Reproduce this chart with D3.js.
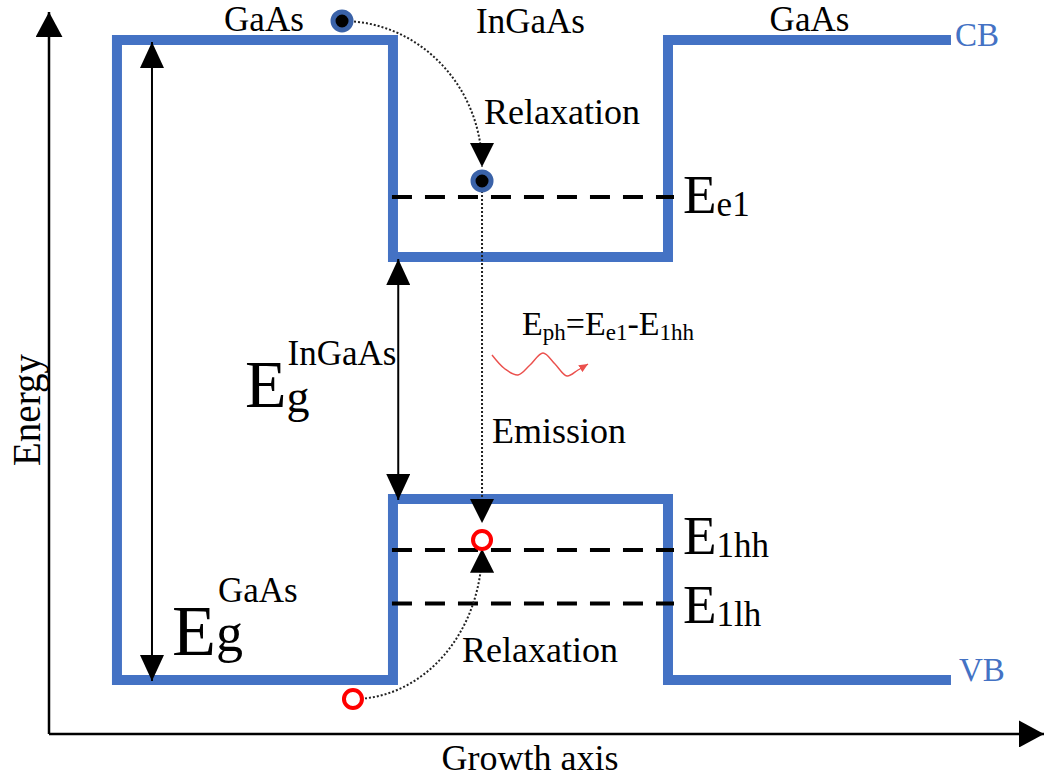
<!DOCTYPE html>
<html>
<head>
<meta charset="utf-8">
<script src="https://cdn.jsdelivr.net/npm/d3@7"></script>
<style>
  html, body { margin: 0; padding: 0; background: #fff; }
  svg { display: block; font-family: "Liberation Serif", "Times New Roman", serif; }
</style>
</head>
<body>
<svg id="chart" width="1044" height="782"></svg>
<script>
// Layers of the heterostructure along the growth axis (arbitrary position units)
const layers = ["GaAs", "InGaAs", "GaAs"];
const layerEdges = [6.83, 34.57, 62.21, 90.65];
// Band edges per layer (eV, referenced to the GaAs valence band)
const cbEdge = [1.42, 0.9385, 1.42];
const vbEdge = [0, 0.4016, 0];
// Confined levels inside the InGaAs well
const levelNames = ["e1", "1hh", "1lh"];
const levelEnergies = [1.0717, 0.2884, 0.1697];
// Axis extents
const growthRange = [0, 100];
const energyRange = [-0.1198, 1.482];
// Carriers: electrons and holes (position, energy)
const electrons = [[29.45, 1.4622], [43.52, 1.1072]];
const holes = [[43.52, 0.3106], [30.55, -0.0422]];
// Relaxation paths (from carrier to arrow tip)
const relaxPaths = [
  { from: [29.45, 1.4622], to: [43.52, 1.1382] },
  { from: [30.55, -0.0422], to: [43.52, 0.2914] }
];
// Emission path (vertical)
const emission = { x: 43.52, from: 1.0850, to: 0.3483 };
// Band gap arrows
const gapArrows = [
  { x: 10.35, top: 1.42, bottom: 0 },
  { x: 35.1, top: 0.9385, bottom: 0.4016 }
];

const svg = d3.select("#chart");
const x = d3.scaleLinear().domain(growthRange).range([49, 1044]);
const y = d3.scaleLinear().domain([0, 1.42]).range([680, 40]);

const blue = "#4472C4";

// Arrowhead markers
const defs = svg.append("defs");
function marker(id, w, l, color) {
  defs.append("marker")
    .attr("id", id)
    .attr("markerUnits", "userSpaceOnUse")
    .attr("viewBox", `0 0 ${l} ${w}`)
    .attr("refX", l).attr("refY", w / 2)
    .attr("markerWidth", l).attr("markerHeight", w)
    .attr("orient", "auto-start-reverse")
    .append("path")
    .attr("d", `M0,0 L${l},${w / 2} L0,${w} Z`)
    .attr("fill", color);
}
marker("axisHead", 27, 25, "#000");
marker("gapHead", 24, 26, "#000");
marker("relaxHead", 24, 24, "#000");
marker("waveHead", 8, 9, "#e8322e");

// Axes
const x0 = x(growthRange[0]), y0 = y(energyRange[0]);
svg.append("line")
  .attr("x1", x0).attr("y1", y0)
  .attr("x2", x0).attr("y2", y(energyRange[1]))
  .attr("stroke", "#000").attr("stroke-width", 2.5)
  .attr("marker-end", "url(#axisHead)");
svg.append("line")
  .attr("x1", x0).attr("y1", y0)
  .attr("x2", x(growthRange[1])).attr("y2", y0)
  .attr("stroke", "#000").attr("stroke-width", 2.5)
  .attr("marker-end", "url(#axisHead)");

svg.append("text")
  .attr("transform", `translate(40,${410}) rotate(-90)`)
  .attr("text-anchor", "middle")
  .attr("font-size", 39)
  .text("Energy");
svg.append("text")
  .attr("x", 530).attr("y", 770)
  .attr("text-anchor", "middle")
  .attr("font-size", 36)
  .text("Growth axis");

// Band profile: CB traced right-to-left, then the barrier wall, then VB left-to-right
const cbPts = [], vbPts = [];
layers.forEach((_, i) => {
  cbPts.push([layerEdges[i], cbEdge[i]], [layerEdges[i + 1], cbEdge[i]]);
  vbPts.push([layerEdges[i], vbEdge[i]], [layerEdges[i + 1], vbEdge[i]]);
});
const bandPts = cbPts.slice().reverse().concat(vbPts);
const line = d3.line().x(d => x(d[0])).y(d => y(d[1]));
svg.append("path")
  .attr("d", line(bandPts))
  .attr("fill", "none")
  .attr("stroke", blue)
  .attr("stroke-width", 10)
  .attr("stroke-linejoin", "miter");

// Band labels
svg.append("text")
  .attr("x", x(layerEdges[3]) + 4).attr("y", y(cbEdge[2]) + 6)
  .attr("font-size", 33).attr("fill", blue).text("CB");
svg.append("text")
  .attr("x", x(layerEdges[3]) + 8).attr("y", y(vbEdge[2]) + 1)
  .attr("font-size", 33).attr("fill", blue).text("VB");

// Layer labels
layers.forEach((name, i) => {
  svg.append("text")
    .attr("x", (x(layerEdges[i]) + x(layerEdges[i + 1])) / 2 + (i === 0 ? 9 : 0))
    .attr("y", y(cbEdge[0]) - (i === 1 ? 7 : 9))
    .attr("text-anchor", "middle")
    .attr("font-size", 35)
    .text(name);
});

// Confined levels (dashed)
svg.append("g").selectAll("line")
  .data(levelEnergies)
  .join("line")
  .attr("x1", x(layerEdges[1]) - 2).attr("x2", x(layerEdges[2]) + 6)
  .attr("y1", d => y(d)).attr("y2", d => y(d))
  .attr("stroke", "#000").attr("stroke-width", 4)
  .attr("stroke-dasharray", "20,13")
  .attr("stroke-dashoffset", -1);

// Level labels
const levelLabelShift = [16, 4, 19];
levelNames.forEach((name, i) => {
  const t = svg.append("text")
    .attr("x", x(layerEdges[2]) + 15)
    .attr("y", y(levelEnergies[i]) + levelLabelShift[i])
    .attr("font-size", 55)
    .text("E");
  t.append("tspan").attr("font-size", 35).attr("dy", 3).text(name);
});

// Band gap arrows
svg.append("g").selectAll("line")
  .data(gapArrows)
  .join("line")
  .attr("x1", d => x(d.x)).attr("x2", d => x(d.x))
  .attr("y1", d => y(d.top) + 2).attr("y2", d => y(d.bottom) + 1)
  .attr("stroke", "#000").attr("stroke-width", 2)
  .attr("marker-start", "url(#gapHead)")
  .attr("marker-end", "url(#gapHead)");

// Band gap labels
function gapLabel(px, py, bigSize, gSize, sup, supDx, supY, gY) {
  const t = svg.append("text").attr("x", px).attr("y", py).attr("font-size", bigSize);
  t.append("tspan").text("E");
  const xg = px + bigSize * 0.611;
  t.append("tspan").attr("x", xg).attr("y", gY).attr("font-size", gSize).text("g");
  t.append("tspan").attr("x", xg + supDx).attr("y", supY).attr("font-size", 35).text(sup);
}
gapLabel(245, 407, 68, 46, "InGaAs", 1, 365, 412);
gapLabel(172, 655, 72, 54, "GaAs", 2, 602, 651);

// Relaxation paths: quarter-ellipse arcs ending in arrowheads
const k = 0.5523;
relaxPaths.forEach(p => {
  const sx = x(p.from[0]), sy = y(p.from[1]);
  const ex = x(p.to[0]), ey = y(p.to[1]);
  const rx = ex - sx, ry = ey - sy;
  const path = d3.path();
  path.moveTo(sx, sy);
  path.bezierCurveTo(sx + k * rx, sy, ex, ey - k * ry, ex, ey);
  svg.append("path")
    .attr("d", path.toString())
    .attr("fill", "none")
    .attr("stroke", "#222").attr("stroke-width", 2)
    .attr("stroke-dasharray", "2,2")
    .attr("marker-end", "url(#relaxHead)");
});

// Emission path
svg.append("line")
  .attr("x1", x(emission.x)).attr("x2", x(emission.x))
  .attr("y1", y(emission.from)).attr("y2", y(emission.to))
  .attr("stroke", "#222").attr("stroke-width", 2)
  .attr("stroke-dasharray", "2,2")
  .attr("marker-end", "url(#relaxHead)");

// Text annotations
svg.append("text").attr("x", 484).attr("y", 124).attr("font-size", 36).text("Relaxation");
svg.append("text").attr("x", 462).attr("y", 662).attr("font-size", 36).text("Relaxation");
svg.append("text").attr("x", 492).attr("y", 443).attr("font-size", 36).text("Emission");

// Photon energy relation
const eph = svg.append("text").attr("x", 522).attr("y", 335).attr("font-size", 34);
eph.append("tspan").text("E");
eph.append("tspan").attr("font-size", 23).attr("dy", 5).text("ph");
eph.append("tspan").attr("font-size", 34).attr("dy", -5).text("=E");
eph.append("tspan").attr("font-size", 23).attr("dy", 5).text("e1");
eph.append("tspan").attr("font-size", 34).attr("dy", -5).text("-E");
eph.append("tspan").attr("font-size", 23).attr("dy", 5).text("1hh");

// Photon wave glyph (shape offsets relative to its anchor)
const waveAnchor = [492, 364];
const waveShape = [[0, -9], [13, 5], [26, 11], [38, 1], [51, -11], [63, 0], [75, 12], [86, 6], [96, 0]];
svg.append("path")
  .attr("d", d3.line().curve(d3.curveCatmullRom)(waveShape.map(d => [waveAnchor[0] + d[0], waveAnchor[1] + d[1]])))
  .attr("fill", "none")
  .attr("stroke", "#e8322e").attr("stroke-width", 1.4)
  .attr("opacity", 0.85)
  .attr("marker-end", "url(#waveHead)");

// Carriers
svg.append("g").selectAll("circle")
  .data(electrons)
  .join("circle")
  .attr("cx", d => x(d[0])).attr("cy", d => y(d[1]))
  .attr("r", 9)
  .attr("fill", "#000")
  .attr("stroke", "#3a62a8").attr("stroke-width", 5);
svg.append("g").selectAll("circle")
  .data(holes)
  .join("circle")
  .attr("cx", d => x(d[0])).attr("cy", d => y(d[1]))
  .attr("r", 9)
  .attr("fill", "#fff")
  .attr("stroke", "#ff0000").attr("stroke-width", 4);
</script>
</body>
</html>
